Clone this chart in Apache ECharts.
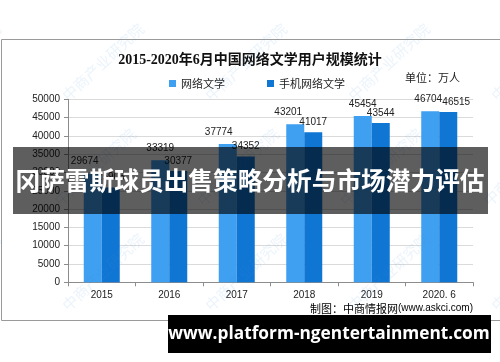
<!DOCTYPE html>
<html><head><meta charset="utf-8">
<script src="https://cdn.jsdelivr.net/npm/echarts@6/dist/echarts.min.js"></script>
<style>html,body{margin:0;padding:0;background:#fff}#c{width:500px;height:362px}</style>
</head><body><div id="c"></div>
<script>
const categories = ['2015', '2016', '2017', '2018', '2019', '2020.6'];
const onlineLit = [29674, 33319, 37774, 43201, 45454, 46704];
const mobileLit = [25908, 30377, 34352, 41017, 43544, 46515];
const yTicks = { min: 0, max: 50000, interval: 5000 };
const seriesNames = ['网络文学', '手机网络文学'];

// label horizontal nudges (style only)
const lightDx = [-8, 0, -9, -7, 0, -2];
const darkDx = [0, 0, 0, 0, 0, 8];

const numFont = '"Liberation Sans", Arial, sans-serif';
const cjkFont = '"Noto Sans CJK SC", "Liberation Sans", sans-serif';

const chart = echarts.init(document.getElementById('c'), null, {renderer: 'canvas'});

const wm = [];
const wmX = [-40, 103, 246, 389, 532];
const wmY = [62, 167, 272];
wmY.forEach((y, j) => wmX.forEach((x, i) => {
  wm.push({
    type: 'text', x: x + (j % 2 ? -8 : 0), y: y, rotation: Math.PI / 4.2, z: 50, silent: true,
    style: { text: '中商产业研究院', fill: 'rgba(70,150,220,0.11)', font: '15px ' + cjkFont,
      textAlign: 'center', textVerticalAlign: 'middle' }
  });
}));

chart.setOption({
  animation: false,
  title: {
    text: '2015-2020年6月中国网络文学用户规模统计',
    left: 'center', top: 48,
    textStyle: { fontSize: 14, fontWeight: 'bold', color: '#111',
      fontFamily: '"Liberation Serif", "Noto Sans CJK SC", serif' }
  },
  legend: {
    left: 164, top: 73, itemWidth: 7, itemHeight: 7, itemGap: 42,
    icon: 'rect',
    textStyle: { fontSize: 11, color: '#222', fontFamily: cjkFont },
    data: seriesNames
  },
  grid: { left: 68, right: 27, top: 99.3, bottom: 79.7 },
  xAxis: {
    type: 'category', data: categories,
    axisLine: { lineStyle: { color: '#8c8c8c' } },
    axisTick: { show: true, length: 4, lineStyle: { color: '#8c8c8c' } },
    axisLabel: { fontSize: 10, color: '#222', margin: 8, fontFamily: numFont,
      formatter: v => v === '2020.6' ? '2020. 6' : v }
  },
  yAxis: {
    type: 'value', min: yTicks.min, max: yTicks.max, interval: yTicks.interval,
    axisLine: { show: true, lineStyle: { color: '#8c8c8c' } },
    axisTick: { show: true, length: 4, lineStyle: { color: '#8c8c8c' } },
    axisLabel: { fontSize: 10, color: '#222', margin: 8, fontFamily: numFont,
      formatter: v => String(v) },
    splitLine: { lineStyle: { color: '#dadada' } }
  },
  series: [
    {
      name: seriesNames[0], type: 'bar', barWidth: 18, barGap: '0%',
      itemStyle: { color: '#3f9ff0' },
      label: { show: true, position: 'top', distance: 7, fontSize: 10, color: '#222', fontFamily: numFont },
      data: onlineLit.map((v, i) => ({ value: v, label: { offset: [lightDx[i], 0] } }))
    },
    {
      name: seriesNames[1], type: 'bar', barWidth: 18, barGap: '0%',
      itemStyle: { color: '#1076d4' },
      label: { show: true, position: 'top', distance: 5, fontSize: 10, color: '#222', fontFamily: numFont },
      data: mobileLit.map((v, i) => ({ value: v, label: { offset: [darkDx[i], 0] } }))
    }
  ],
  graphic: [
    { type: 'rect', shape: { x: 1.5, y: 39.5, width: 510, height: 281 }, z: 0, silent: true,
      style: { fill: 'none', stroke: '#9a9a9a', lineWidth: 1 } },
    { type: 'text', left: 405, top: 72, z: 10,
      style: { text: '单位：万人', font: '11px ' + cjkFont, fill: '#222' } },
    { type: 'text', right: 27, top: 303, z: 10,
      style: { text: '{a|制图：中商情报网}{b|(www.askci.com)}',
        rich: { a: { fontSize: 11, fontFamily: cjkFont, color: '#222' },
                b: { fontSize: 10, fontFamily: numFont, color: '#3b4660' } } } },
    ...wm,
    { type: 'rect', shape: { x: 13, y: 147, width: 475, height: 67 }, z: 100,
      style: { fill: 'rgba(0,0,0,0.63)' } },
    { type: 'text', x: 250, y: 181, z: 101,
      style: { text: '冈萨雷斯球员出售策略分析与市场潜力评估', fill: '#fff',
        font: 'bold 24.7px ' + cjkFont, textAlign: 'center', textVerticalAlign: 'middle' } },
    { type: 'rect', shape: { x: 168, y: 315, width: 323, height: 38 }, z: 100,
      style: { fill: '#000' } },
    { type: 'text', x: 329, y: 334, z: 101,
      style: { text: 'www.platform-ngentertainment.com', fill: '#fff',
        font: 'bold 17.3px "Open Sans", sans-serif', textAlign: 'center', textVerticalAlign: 'middle' } }
  ]
});
</script></body></html>
